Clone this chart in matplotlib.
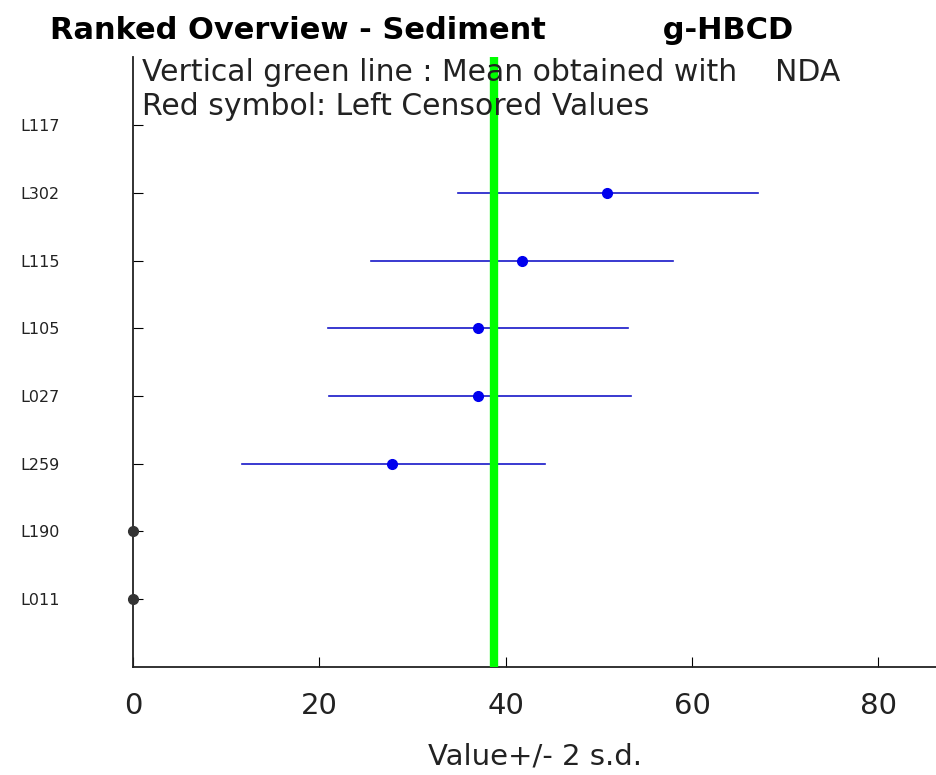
import matplotlib
matplotlib.use('Agg')
import matplotlib.pyplot as plt

# labs ranked bottom -> top
labs = ['L011', 'L190', 'L259', 'L027', 'L105', 'L115', 'L302', 'L117']
vals = [0, 0, 27.8, 37.0, 37.0, 41.7, 50.9, None]
lo = [None, None, 11.7, 21.0, 20.9, 25.5, 34.9, None]
hi = [None, None, 44.2, 53.4, 53.1, 58.0, 67.1, None]
censored = [True, True, False, False, False, False, False, False]
mean_nda = 38.7

fig = plt.figure(figsize=(9.37, 7.75), dpi=100)
ax = fig.add_axes([0.142, 0.1394, 0.858, 0.7866])

ypos = list(range(1, len(labs) + 1))
for y, v, a, b, c in zip(ypos, vals, lo, hi, censored):
    if v is None:
        continue
    if c:
        ax.plot(v, y, 'o', color='#333333', ms=7, clip_on=False, zorder=4)
    else:
        ax.plot([a, b], [y, y], color='#1818c8', lw=1.2, zorder=2)
        ax.plot(v, y, 'o', color='#0000ee', ms=7, zorder=4)

ax.axvline(mean_nda, color='#00ff00', lw=6, zorder=3)

ax.set_xlim(0, 86.3)
ax.set_ylim(0, 9)
ax.set_yticks(ypos)
ax.set_yticklabels(labs, fontsize=11.5, color='#222222')
ax.set_xticks([0, 20, 40, 60, 80])
ax.tick_params(axis='x', direction='in', length=7, labelsize=21, pad=18, labelcolor='#222222')
ax.tick_params(axis='y', direction='in', length=7, pad=81)
for t in ax.get_yticklabels():
    t.set_horizontalalignment('left')
ax.spines['top'].set_visible(False)
ax.spines['right'].set_visible(False)
for s in ['left', 'bottom']:
    ax.spines[s].set_linewidth(1.3)
    ax.spines[s].set_color('#222222')
ax.set_xlabel('Value+/- 2 s.d.', fontsize=21, color='#222222', labelpad=16)

fig.text(0.053, 0.961, 'Ranked Overview - Sediment           g-HBCD',
         fontsize=22, fontweight='bold', va='center', ha='left')
fig.text(0.152, 0.906, 'Vertical green line : Mean obtained with    NDA',
         fontsize=21.5, va='center', ha='left', color='#222222')
fig.text(0.152, 0.863, 'Red symbol: Left Censored Values',
         fontsize=21.5, va='center', ha='left', color='#222222')

fig.savefig('out.png', dpi=100)
